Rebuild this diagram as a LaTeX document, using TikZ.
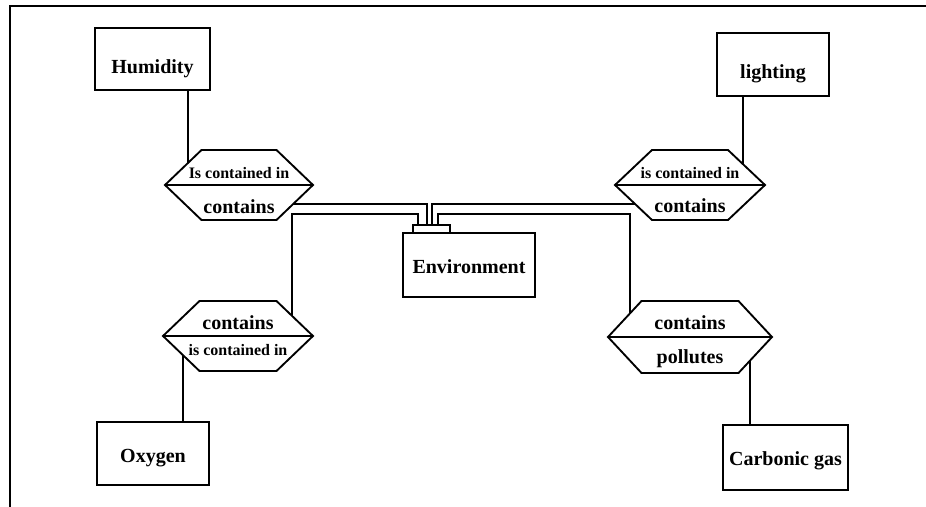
\documentclass[tikz,border=0pt]{standalone}
\usepackage{fontspec}
\setmainfont{Liberation Serif}
\usetikzlibrary{fit}

% relationship hexagon: name, cx, cy, tip half-width, top half-width, half-height
\newcommand\relhex[6]{%
  \coordinate (#1) at (#2,#3);
  \coordinate (#1-w) at (#2-#4,#3);
  \coordinate (#1-e) at (#2+#4,#3);
  \draw[ln] (#1-w) -- (#2-#5,#3-#6) -- (#2+#5,#3-#6) -- (#1-e)
            -- (#2+#5,#3+#6) -- (#2-#5,#3+#6) -- cycle;
  \draw[ln] (#1-w) -- (#1-e);
}

\begin{document}
\begin{tikzpicture}[x=0.75pt,y=-0.75pt,
  ln/.style={line width=1.4pt},
  entity/.style={draw, ln, inner sep=0pt},
  lbl/.style={anchor=base, inner sep=0pt, font=\bfseries\fontsize{15}{15}\selectfont},
  rlbl/.style={anchor=base, inner sep=0pt, font=\bfseries\fontsize{12}{12}\selectfont},
]
\useasboundingbox (0,0) rectangle (926,507);

% frame
\draw[ln] (10,507) -- (10,6) -- (926,6);

% entities
\node[entity, fit={(95,28) (210,90)}] (hum) {};
\node[lbl] (humT) at (152.5,73) {Humidity};
\node[entity, fit={(717,33) (829,96)}] (light) {};
\node[lbl] (lightT) at (773,78) {lighting};
\node[entity, fit={(97,422) (209,485)}] (oxy) {};
\node[lbl] (oxyT) at (153,462) {Oxygen};
\node[entity, fit={(723,425) (848,490)}] (carb) {};
\node[lbl] (carbT) at (785.5,465) {Carbonic gas};
\node[entity, fit={(403,233) (535,297)}] (env) {};
\node[lbl] (envT) at (469,273) {Environment};
\node[entity, fit={(413,225) (450,233)}] (tab) {};

% relationships
\relhex{rUL}{239}{185}{74}{37.5}{35}
\node[rlbl] (rULa) at (239,178) {Is contained in};
\node[lbl]  (rULb) at (239,213) {contains};

\relhex{rUR}{690}{185}{75}{38}{35}
\node[rlbl] (rURa) at (690,178) {is contained in};
\node[lbl]  (rURb) at (690,212) {contains};

\relhex{rLL}{238}{336}{75}{38.5}{35}
\node[lbl]  (rLLa) at (238,329) {contains};
\node[rlbl] (rLLb) at (238,355) {is contained in};

\relhex{rLR}{690}{337}{82}{48.5}{36}
\node[lbl]  (rLRa) at (690,329) {contains};
\node[lbl]  (rLRb) at (690,363) {pollutes};

% attachment points
\coordinate (aHum) at (188,163);
\coordinate (aLight) at (743,164.5);
\coordinate (aOxy) at (183,355);
\coordinate (aCarb) at (750,360.5);
\coordinate (aUL) at (293,204);
\coordinate (aUR) at (635,204);
\coordinate (aLL) at (292,316);
\coordinate (aLR) at (630,313.5);
\coordinate (kL) at (418,214);
\coordinate (kR) at (630,214);
\coordinate (t1) at (418,225);
\coordinate (t2) at (427,225);
\coordinate (t3) at (432,225);
\coordinate (t4) at (438,225);

% connectors
\draw[ln] (hum.south -| aHum) -- (aHum);
\draw[ln] (light.south -| aLight) -- (aLight);
\draw[ln] (aOxy) -- (oxy.north -| aOxy);
\draw[ln] (aCarb) -- (carb.north -| aCarb);
\draw[ln] (aUL) -| (t2);
\draw[ln] (aUR) -| (t3);
\draw[ln] (aLL) |- (kL) -- (t1);
\draw[ln] (t4) |- (kR) -- (aLR);
\end{tikzpicture}
\end{document}
